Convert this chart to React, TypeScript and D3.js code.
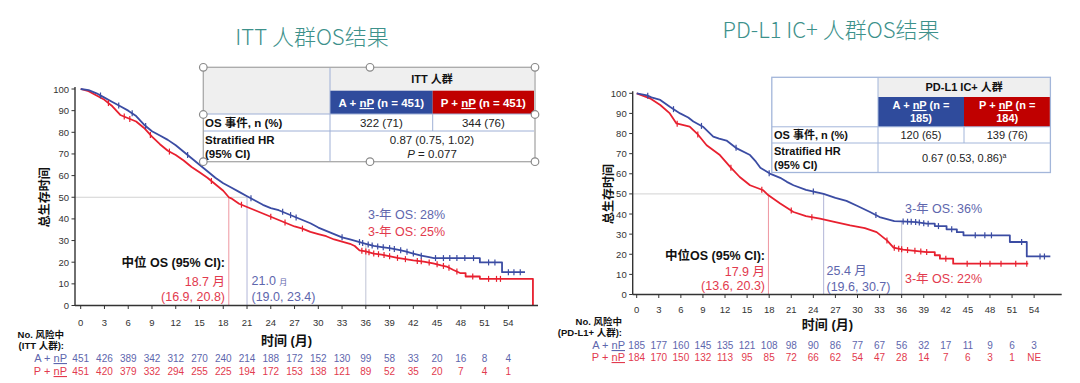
import React from "react";
import * as d3 from "d3";

const FONT = "'Liberation Sans', Arial, 'Noto Sans CJK SC', sans-serif";
const CJK = "'Noto Sans CJK SC', 'Liberation Sans', sans-serif";

const BLUE = "#3b4ca3";
const RED = "#e8202f";
const BLUE_T = "#5e66ad";
const RED_T = "#e23a4e";
const TEAL = "#3d918b";

// ---------- data ----------
const months = [0, 3, 6, 9, 12, 15, 18, 21, 24, 27, 30, 33, 36, 39, 42, 45, 48, 51, 54];
const yTicks = [0, 10, 20, 30, 40, 50, 60, 70, 80, 90, 100];

// ITT population KM vertices [month, OS%]
const ittBlue: [number, number][] = [
  [0, 100], [1, 99.5], [2, 98], [3, 96], [4, 94], [5, 92], [6, 90], [7, 87.5], [8, 83.5], [9, 80.5],
  [10, 78.5], [11, 76.5], [12, 74], [13, 71], [14, 68], [15, 65], [16, 62], [17, 59], [18, 56.5],
  [19, 54.5], [20, 52.5], [21, 50.5], [22, 48.5], [23, 46.5], [24, 45], [25, 44], [26, 42.5],
  [27, 41], [28, 39.5], [29, 38], [30, 36], [31, 34.5], [32, 33], [33, 31.5], [34, 30.5],
  [35, 29.5], [36, 28.5], [37, 27.5], [38, 27], [39, 26.5], [40, 25.8], [41, 25], [42, 24],
  [43, 23], [44, 22.3], [44.6, 21.9], [50.4, 21.9], [50.4, 19.9], [53.2, 19.9], [53.2, 15.4], [56.1, 15.4],
];
const ittRed: [number, number][] = [
  [0, 100], [1, 99], [2, 97], [3, 95], [4, 92], [5, 88], [6, 86.5], [7, 85], [8, 82], [9, 78],
  [10, 74.5], [11, 71.5], [12, 69.5], [13, 67], [14, 64], [15, 61.5], [16, 59], [17, 56], [18, 53],
  [18.7, 50], [19, 49.5], [20, 47], [21, 45.5], [22, 44], [23, 42.5], [24, 41], [25, 39.5], [26, 38],
  [27, 36.5], [28, 35.5], [29, 34], [30, 33], [31, 32], [32, 30.5], [33, 29.5], [34, 28.5],
  [34.6, 27.5], [35.2, 25.5], [36, 25], [37, 24], [38, 23.5], [40, 22], [42, 20.8], [43.3, 20.3],
  [44.5, 19.5], [45.5, 18.5], [46.2, 18], [47, 16.5], [47.9, 15], [48.6, 15], [48.6, 13.4],
  [50.4, 13.4], [50.4, 12.3], [57.1, 12.3], [57.1, 0],
];
const ittBlueCensor = [2.5, 4.8, 6.5, 8.2, 13.5, 21.5, 25.5, 26.5, 27.2, 33, 35.2, 35.6, 36.3, 36.8,
  37.5, 38.2, 39, 39.6, 40.4, 41.2, 42, 43, 44.8, 45.8, 46.6, 47.5, 48.5, 49.6, 51.5, 52.3, 54, 54.7, 55.5];
const ittRedCensor = [3.5, 5.5, 6.2, 8.8, 11.2, 16.5, 20.3, 24, 25.8, 28, 35.5, 36, 36.4, 37, 37.6,
  38.3, 39, 40, 41, 42.5, 43, 44, 45, 45.8, 46.5, 47.5, 49.5, 51.5, 52.5, 53];

// PD-L1 IC+ population KM vertices
const pdBlue: [number, number][] = [
  [0, 100], [1.4, 99], [2, 98], [3.2, 96.7], [4.5, 93.3], [5.9, 90], [7, 88], [7.7, 86], [9, 83.4],
  [10.4, 78.5], [11.2, 77.5], [12.2, 76.5], [13.6, 72.6], [15.4, 69.3], [16.2, 66], [16.8, 63],
  [18.1, 60.1], [19.5, 58], [20.4, 56], [21.3, 54.3], [23, 52], [24.2, 51], [25.4, 50], [27, 48],
  [28.5, 46.5], [30, 44], [31.7, 41], [33, 38.5], [34, 37.5], [35, 36.5], [36, 36.3], [38, 36],
  [39.4, 35.2], [40.5, 35.2], [40.5, 34], [42.1, 34], [42.1, 32.4], [43.5, 32.4], [43.5, 31],
  [44.4, 31], [44.4, 29.4], [50.7, 29.4], [50.7, 26.1], [53, 26.1], [53, 18.9], [56.2, 18.9],
];
const pdRed: [number, number][] = [
  [0, 100], [1.8, 97.5], [3.2, 94.2], [4.5, 90], [5.4, 85], [7.2, 83.4], [8.2, 80], [9.5, 74.2],
  [11.3, 69.3], [12.7, 63.4], [14, 58.4], [15.4, 54.3], [17.2, 51.8], [17.9, 49.3], [19.5, 45.2],
  [21.3, 41], [23, 39], [24.9, 37.7], [27, 36], [29, 34.4], [31, 33], [32.6, 31], [34, 26.9],
  [34.9, 23.3], [36.2, 22.3], [39.4, 21.1], [40.5, 21.1], [40.5, 19.5], [41.2, 19.5], [41.2, 17.8],
  [43, 17.8], [43, 15.3], [53.2, 15.3],
];
const pdBlueCensor = [1.5, 5, 8.8, 13.5, 18, 24, 32.5, 36.2, 36.8, 37.3, 37.9, 38.4, 39, 39.6, 41,
  42.8, 46, 47.3, 48.2, 52.3, 54.8, 55.4];
const pdRedCensor = [5.5, 8.3, 12.8, 17, 21, 23.8, 34, 35, 35.6, 36, 36.8, 37.8, 38.6, 39.4, 42,
  44.9, 46.7, 48, 49.5, 51.5, 53];

// number at risk
const ittRiskBlue = ["451", "426", "389", "342", "312", "270", "240", "214", "188", "172", "152", "130", "99", "58", "33", "20", "16", "8", "4"];
const ittRiskRed = ["451", "420", "379", "332", "294", "255", "225", "194", "172", "153", "138", "121", "89", "52", "35", "20", "7", "4", "1"];
const pdRiskBlue = ["185", "177", "160", "145", "135", "121", "108", "98", "90", "86", "77", "67", "56", "32", "17", "11", "9", "6", "3"];
const pdRiskRed = ["184", "170", "150", "132", "113", "95", "85", "72", "66", "62", "54", "47", "28", "14", "7", "6", "3", "1", "NE"];

// medians & 3-year
const ittMedian = { red: 18.7, blue: 21.0 };
const pdMedian = { red: 17.9, blue: 25.4 };
const ittThreeYear = { blue: 28.5, red: 25 };
const pdThreeYear = { blue: 36.3, red: 22.3 };

function valueAt(data: [number, number][], t: number) {
  for (let i = data.length - 1; i > 0; i--) {
    const [t0, v0] = data[i - 1];
    const [t1, v1] = data[i];
    if (t >= t0 && t <= t1) {
      if (t1 === t0) return v1;
      return v0 + ((v1 - v0) * (t - t0)) / (t1 - t0);
    }
  }
  return data[data.length - 1][1];
}

type PanelCfg = {
  title: string;
  titleX: number;
  titleY: number;
  x0: number;
  perMonth: number;
  yTop: number;
  yBot: number;
  axisX: number;
  axisRight: number;
  blue: [number, number][];
  red: [number, number][];
  blueC: number[];
  redC: number[];
  med: { red: number; blue: number };
  three: { red: number; blue: number };
  riskBlue: string[];
  riskRed: string[];
  riskLabel2: string;
  riskYs: [number, number, number, number];
  riskLabelRight: number;
  tickLabelY: number;
  xLabelY: number;
  yLabelX: number;
};

function Panel({ c, children }: { c: PanelCfg; children?: React.ReactNode }) {
  const x = d3.scaleLinear().domain([0, 54]).range([c.x0, c.x0 + 54 * c.perMonth]);
  const y = d3.scaleLinear().domain([0, 100]).range([c.yBot, c.yTop]);
  const line = d3
    .line<[number, number]>()
    .x((d) => x(d[0]))
    .y((d) => y(d[1]))
    .curve(d3.curveLinear);
  const cx = (x(0) + x(54)) / 2;
  return (
    <g>
      <text x={c.titleX} y={c.titleY} textAnchor="middle" fontFamily={CJK} fontSize={22} fill={TEAL} fontWeight={300}>
        {c.title}
      </text>
      {/* reference lines */}
      <line x1={c.axisX} x2={x(c.med.blue)} y1={y(50)} y2={y(50)} stroke="#c8c8c8" strokeWidth={0.8} />
      <line x1={x(c.med.red)} x2={x(c.med.red)} y1={y(50)} y2={c.yBot} stroke="#ec8a95" strokeWidth={0.9} />
      <line x1={x(c.med.blue)} x2={x(c.med.blue)} y1={y(50)} y2={c.yBot} stroke="#a9add3" strokeWidth={0.9} />
      <line x1={x(36)} x2={x(36)} y1={y(c.three.blue)} y2={c.yBot} stroke="#b8bcd0" strokeWidth={0.9} />
      {/* curves */}
      <path d={line(c.red) || ""} fill="none" stroke={RED} strokeWidth={1.8} strokeLinejoin="round" />
      <path d={line(c.blue) || ""} fill="none" stroke={BLUE} strokeWidth={1.8} strokeLinejoin="round" />
      {c.redC.map((t, i) => (
        <line key={"rc" + i} x1={x(t)} x2={x(t)} y1={y(valueAt(c.red, t)) - 3} y2={y(valueAt(c.red, t)) + 3} stroke={RED} strokeWidth={1.2} />
      ))}
      {c.blueC.map((t, i) => (
        <line key={"bc" + i} x1={x(t)} x2={x(t)} y1={y(valueAt(c.blue, t)) - 3} y2={y(valueAt(c.blue, t)) + 3} stroke={BLUE} strokeWidth={1.2} />
      ))}
      {/* axes */}
      <line x1={c.axisX} x2={c.axisX} y1={c.yBot} y2={c.yTop - 2} stroke="#333" strokeWidth={1.4} />
      <line x1={c.axisX} x2={c.axisRight} y1={c.yBot} y2={c.yBot} stroke="#333" strokeWidth={1.4} />
      {yTicks.map((v) => (
        <g key={"yt" + v}>
          <line x1={c.axisX - 3.5} x2={c.axisX} y1={y(v)} y2={y(v)} stroke="#333" strokeWidth={1} />
          <text x={c.axisX - 6} y={y(v) + 3.5} textAnchor="end" fontFamily={FONT} fontSize={9.5} fill="#333">
            {v}
          </text>
        </g>
      ))}
      {months.map((m) => (
        <g key={"xt" + m}>
          <line x1={x(m)} x2={x(m)} y1={c.yBot} y2={c.yBot + 3.5} stroke="#333" strokeWidth={1} />
          <text x={x(m)} y={c.tickLabelY} textAnchor="middle" fontFamily={FONT} fontSize={9.5} fill="#333">
            {m}
          </text>
        </g>
      ))}
      <text x={cx - 8} y={c.xLabelY} textAnchor="middle" fontFamily={FONT} fontSize={13} fontWeight="bold" fill="#111">
        时间 (月)
      </text>
      <text
        transform={`translate(${c.yLabelX},${(c.yTop + c.yBot) / 2}) rotate(-90)`}
        textAnchor="middle"
        fontFamily={CJK}
        fontSize={12}
        fontWeight="bold"
        fill="#111"
      >
        总生存时间
      </text>
      {/* risk table */}
      <text x={c.riskLabelRight - 3} y={c.riskYs[0]} textAnchor="end" fontFamily={FONT} fontSize={9.5} fontWeight="bold" fill="#111">
        No. 风险中
      </text>
      <text x={c.riskLabelRight - 3} y={c.riskYs[1]} textAnchor="end" fontFamily={FONT} fontSize={9.5} fontWeight="bold" fill="#111">
        {c.riskLabel2}
      </text>
      <text x={c.riskLabelRight} y={c.riskYs[2]} textAnchor="end" fontFamily={FONT} fontSize={11} fill={BLUE_T}>
        A + <tspan textDecoration="underline">nP</tspan>
      </text>
      <text x={c.riskLabelRight} y={c.riskYs[3]} textAnchor="end" fontFamily={FONT} fontSize={11} fill={RED_T}>
        P + <tspan textDecoration="underline">nP</tspan>
      </text>
      {months.map((m, i) => (
        <g key={"rk" + m}>
          <text x={x(m)} y={c.riskYs[2]} textAnchor="middle" fontFamily={FONT} fontSize={10} fill={BLUE_T}>
            {c.riskBlue[i]}
          </text>
          <text x={x(m)} y={c.riskYs[3]} textAnchor="middle" fontFamily={FONT} fontSize={10} fill={RED_T}>
            {c.riskRed[i]}
          </text>
        </g>
      ))}
      {children}
    </g>
  );
}

const leftCfg: PanelCfg = {
  title: "ITT 人群OS结果",
  titleX: 312,
  titleY: 45,
  x0: 80.7,
  perMonth: 7.92,
  yTop: 89,
  yBot: 305.5,
  axisX: 75,
  axisRight: 538,
  blue: ittBlue,
  red: ittRed,
  blueC: ittBlueCensor,
  redC: ittRedCensor,
  med: ittMedian,
  three: ittThreeYear,
  riskBlue: ittRiskBlue,
  riskRed: ittRiskRed,
  riskLabel2: "(ITT 人群):",
  riskYs: [338, 349, 362, 375],
  riskLabelRight: 67,
  tickLabelY: 326,
  xLabelY: 345,
  yLabelX: 49,
};

const rightCfg: PanelCfg = {
  title: "PD-L1 IC+ 人群OS结果",
  titleX: 831,
  titleY: 38,
  x0: 636.7,
  perMonth: 7.36,
  yTop: 93.3,
  yBot: 294.5,
  axisX: 632.7,
  axisRight: 1061.7,
  blue: pdBlue,
  red: pdRed,
  blueC: pdBlueCensor,
  redC: pdRedCensor,
  med: pdMedian,
  three: pdThreeYear,
  riskBlue: pdRiskBlue,
  riskRed: pdRiskRed,
  riskLabel2: "(PD-L1+ 人群):",
  riskYs: [325, 336, 349, 361],
  riskLabelRight: 625,
  tickLabelY: 313,
  xLabelY: 329,
  yLabelX: 613,
};

function Handle({ x, y }: { x: number; y: number }) {
  return <circle cx={x} cy={y} r={3.8} fill="#fff" stroke="#8a8a8a" strokeWidth={1.2} />;
}

function LeftTable() {
  const X = [203.3, 330, 432.7, 534];
  const Y = [67.3, 90.7, 114, 131, 161.7];
  const bc = "#9fb0d6";
  const f = 11.5;
  return (
    <g fontFamily={FONT}>
      <rect x={X[0]} y={Y[0]} width={X[3] - X[0]} height={Y[4] - Y[0]} fill="#fff" />
      <rect x={X[0]} y={Y[0]} width={X[3] - X[0]} height={Y[2] - Y[0]} fill="#efefef" />
      <rect x={X[1]} y={Y[1]} width={X[2] - X[1]} height={Y[2] - Y[1]} fill="#2f4b9c" />
      <rect x={X[2]} y={Y[1]} width={X[3] - X[2]} height={Y[2] - Y[1]} fill="#c00000" />
      <line x1={X[1]} x2={X[1]} y1={Y[0]} y2={Y[4]} stroke={bc} />
      <line x1={X[2]} x2={X[2]} y1={Y[2]} y2={Y[3]} stroke={bc} />
      <line x1={X[0]} x2={X[3]} y1={Y[2]} y2={Y[2]} stroke={bc} />
      <line x1={X[0]} x2={X[3]} y1={Y[3]} y2={Y[3]} stroke={bc} />
      <rect x={X[0]} y={Y[0]} width={535 - X[0]} height={Y[4] - Y[0]} fill="none" stroke="#a8a8a8" strokeWidth={1.3} />
      <text x={(X[1] + X[3]) / 2} y={83} textAnchor="middle" fontSize={11} fontWeight="bold" fill="#111">ITT 人群</text>
      <text x={(X[1] + X[2]) / 2} y={107} textAnchor="middle" fontSize={f} fontWeight="bold" fill="#fff">
        A + <tspan textDecoration="underline">nP</tspan> (n = 451)
      </text>
      <text x={(X[2] + X[3]) / 2} y={107} textAnchor="middle" fontSize={f} fontWeight="bold" fill="#fff">
        P + <tspan textDecoration="underline">nP</tspan> (n = 451)
      </text>
      <text x={205} y={127} fontSize={f} fontWeight="bold" fill="#111">OS 事件, n (%)</text>
      <text x={(X[1] + X[2]) / 2} y={127} textAnchor="middle" fontSize={f} fill="#222">322 (71)</text>
      <text x={(X[2] + X[3]) / 2} y={127} textAnchor="middle" fontSize={f} fill="#222">344 (76)</text>
      <text x={205} y={144} fontSize={f} fontWeight="bold" fill="#111">Stratified HR</text>
      <text x={205} y={158} fontSize={f} fontWeight="bold" fill="#111">(95% CI)</text>
      <text x={(X[1] + X[3]) / 2} y={144} textAnchor="middle" fontSize={f} fill="#222">0.87 (0.75, 1.02)</text>
      <text x={(X[1] + X[3]) / 2} y={158} textAnchor="middle" fontSize={f} fill="#222">
        <tspan fontStyle="italic">P</tspan> = 0.077
      </text>
      <Handle x={203.3} y={67.3} />
      <Handle x={370} y={67.3} />
      <Handle x={535} y={67.3} />
      <Handle x={203.3} y={114.5} />
      <Handle x={535} y={114.5} />
      <Handle x={203.3} y={161.7} />
      <Handle x={370} y={161.7} />
      <Handle x={535} y={161.7} />
    </g>
  );
}

function RightTable() {
  const X = [771.8, 878, 964, 1050.4];
  const Y = [77.3, 97, 126.8, 143, 172.5];
  const bc = "#a3b6da";
  const f = 11;
  return (
    <g fontFamily={FONT}>
      <rect x={X[0]} y={Y[0]} width={X[3] - X[0]} height={Y[4] - Y[0]} fill="#fff" />
      <rect x={X[1]} y={Y[0]} width={X[3] - X[1]} height={Y[1] - Y[0]} fill="#efefef" />
      <rect x={X[1]} y={Y[1]} width={X[2] - X[1]} height={Y[2] - Y[1]} fill="#2f4b9c" />
      <rect x={X[2]} y={Y[1]} width={X[3] - X[2]} height={Y[2] - Y[1]} fill="#c00000" />
      <line x1={X[1]} x2={X[1]} y1={Y[0]} y2={Y[4]} stroke={bc} />
      <line x1={X[2]} x2={X[2]} y1={Y[2]} y2={Y[3]} stroke={bc} />
      <line x1={X[0]} x2={X[3]} y1={Y[2]} y2={Y[2]} stroke={bc} />
      <line x1={X[0]} x2={X[3]} y1={Y[3]} y2={Y[3]} stroke={bc} />
      <rect x={X[0]} y={Y[0]} width={X[3] - X[0]} height={Y[4] - Y[0]} fill="none" stroke={bc} strokeWidth={1.3} />
      <text x={(X[1] + X[3]) / 2} y={91} textAnchor="middle" fontSize={f} fontWeight="bold" fill="#111">PD-L1 IC+ 人群</text>
      <text x={(X[1] + X[2]) / 2} y={109} textAnchor="middle" fontSize={f} fontWeight="bold" fill="#fff">
        A + <tspan textDecoration="underline">nP</tspan> (n =
      </text>
      <text x={(X[1] + X[2]) / 2} y={122} textAnchor="middle" fontSize={f} fontWeight="bold" fill="#fff">185)</text>
      <text x={(X[2] + X[3]) / 2} y={109} textAnchor="middle" fontSize={f} fontWeight="bold" fill="#fff">
        P + <tspan textDecoration="underline">nP</tspan> (n =
      </text>
      <text x={(X[2] + X[3]) / 2} y={122} textAnchor="middle" fontSize={f} fontWeight="bold" fill="#fff">184)</text>
      <text x={774} y={139} fontSize={f} fontWeight="bold" fill="#111">OS 事件, n (%)</text>
      <text x={(X[1] + X[2]) / 2} y={139} textAnchor="middle" fontSize={f} fill="#222">120 (65)</text>
      <text x={(X[2] + X[3]) / 2} y={139} textAnchor="middle" fontSize={f} fill="#222">139 (76)</text>
      <text x={774} y={155} fontSize={f} fontWeight="bold" fill="#111">Stratified HR</text>
      <text x={774} y={169} fontSize={f} fontWeight="bold" fill="#111">(95% CI)</text>
      <text x={(X[1] + X[3]) / 2} y={162} textAnchor="middle" fontSize={f} fill="#222">
        0.67 (0.53, 0.86)<tspan fontSize={7} dy={-4}>a</tspan>
      </text>
    </g>
  );
}

export default function App() {
  const ann = 12.5;
  return (
    <svg
      width={1080}
      height={383}
      style={{ position: "absolute", left: 0, top: 0, background: "#fff" }}
      fontFamily={FONT}
    >
      <rect x={0} y={0} width={1080} height={383} fill="#fff" />
      <Panel c={leftCfg}>
        <text x={225} y={267} textAnchor="end" fontSize={ann} fontWeight="bold" fill="#111">中位 OS (95% CI):</text>
        <text x={225} y={286} textAnchor="end" fontSize={ann} fill={RED_T}>18.7 月</text>
        <text x={225} y={301} textAnchor="end" fontSize={ann} fill={RED_T}>(16.9, 20.8)</text>
        <text x={251.5} y={284.5} fontSize={ann} fill={BLUE_T}>21.0 <tspan fontSize={8}>月</tspan></text>
        <text x={251.5} y={301} fontSize={ann} fill={BLUE_T}>(19.0, 23.4)</text>
        <text x={368} y={219} fontSize={ann} fill={BLUE_T}>3-年 OS: 28%</text>
        <text x={368} y={236} fontSize={ann} fill={RED_T}>3-年 OS: 25%</text>
      </Panel>
      <Panel c={rightCfg}>
        <text x={765} y={259.5} textAnchor="end" fontSize={ann} fontWeight="bold" fill="#111">中位OS (95% CI):</text>
        <text x={765} y={276} textAnchor="end" fontSize={ann} fill={RED_T}>17.9 月</text>
        <text x={765} y={289.5} textAnchor="end" fontSize={ann} fill={RED_T}>(13.6, 20.3)</text>
        <text x={826.5} y={274.5} fontSize={ann} fill={BLUE_T}>25.4 月</text>
        <text x={826.5} y={290.5} fontSize={ann} fill={BLUE_T}>(19.6, 30.7)</text>
        <text x={905} y={212.5} fontSize={ann} fill={BLUE_T}>3-年 OS: 36%</text>
        <text x={905} y={282.5} fontSize={ann} fill={RED_T}>3-年 OS: 22%</text>
      </Panel>
      <LeftTable />
      <RightTable />
    </svg>
  );
}
